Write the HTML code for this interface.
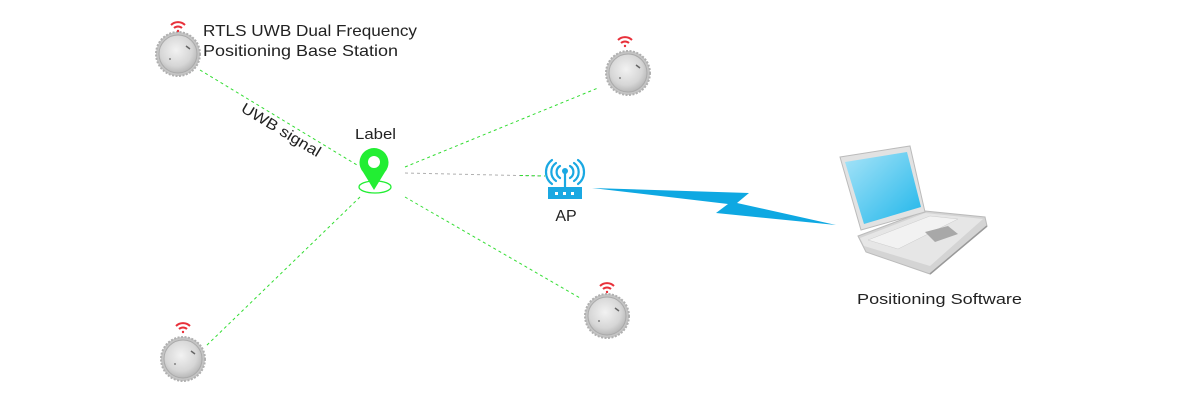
<!DOCTYPE html>
<html><head><meta charset="utf-8"><style>
html,body{margin:0;padding:0;background:#fff;}
svg{display:block;font-family:"Segoe UI","Liberation Sans","DejaVu Sans",sans-serif;}
</style></head><body>
<svg width="1200" height="400" viewBox="0 0 1200 400" xmlns="http://www.w3.org/2000/svg">
<defs>
<radialGradient id="bs" cx="45%" cy="40%" r="60%">
<stop offset="0" stop-color="#f2f2f2"/><stop offset="0.7" stop-color="#d6d6d6"/><stop offset="1" stop-color="#b8b8b8"/>
</radialGradient>
<linearGradient id="scr" x1="0" y1="0" x2="1" y2="1">
<stop offset="0" stop-color="#a8e4f8"/><stop offset="1" stop-color="#1fb6ea"/>
</linearGradient>
<g id="station">
<circle r="22" fill="#c4c4c4" stroke="#b0b0b0" stroke-width="2" stroke-dasharray="2 1.5"/>
<circle r="19" fill="url(#bs)" stroke="#aaa" stroke-width="1"/>
<path d="M8,-8 l4,3" stroke="#666" stroke-width="1.5"/>
<circle cx="-8" cy="5" r="0.9" fill="#666"/>
</g>
<g id="wifi" fill="none" stroke="#e8303a" stroke-width="2">
<path d="M-7,-2 A10,10 0 0 1 7,-2"/>
<path d="M-4,1 A6,6 0 0 1 4,1"/>
<circle cx="0" cy="4" r="1.2" fill="#e8303a" stroke="none"/>
</g>
</defs>
<g stroke="#33dd33" stroke-width="1" stroke-dasharray="3 3" fill="none">
<line x1="200" y1="70" x2="357" y2="165"/>
<line x1="405" y1="167" x2="598" y2="88"/>
<line x1="405" y1="197" x2="580" y2="298"/>
<line x1="360" y1="197" x2="205" y2="347"/>
</g>
<line x1="405" y1="173" x2="540" y2="176" stroke="#b0b0b0" stroke-width="1" stroke-dasharray="3 3"/>
<line x1="520" y1="175.5" x2="545" y2="176" stroke="#33dd33" stroke-width="1" stroke-dasharray="3 3"/>

<use href="#station" x="178" y="54"/><use href="#wifi" x="178" y="27"/>
<use href="#station" x="628" y="73"/><use href="#wifi" x="625" y="42"/>
<use href="#station" x="607" y="316"/><use href="#wifi" x="607" y="288"/>
<use href="#station" x="183" y="359"/><use href="#wifi" x="183" y="328"/>

<text x="203" y="36" font-size="16" fill="#222" textLength="214" lengthAdjust="spacingAndGlyphs">RTLS UWB Dual Frequency</text>
<text x="203" y="56" font-size="16" fill="#222" textLength="195" lengthAdjust="spacingAndGlyphs">Positioning Base Station</text>
<text x="0" y="0" font-size="15" fill="#222" transform="translate(240,111) rotate(31)" textLength="90" lengthAdjust="spacingAndGlyphs">UWB signal</text>
<text x="355" y="139" font-size="15" fill="#222" textLength="41" lengthAdjust="spacingAndGlyphs">Label</text>

<ellipse cx="375" cy="187" rx="16" ry="6" fill="none" stroke="#22ee33" stroke-width="1.3"/>
<path d="M374,190 L363,172 A14.5,14.5 0 1 1 385,172 Z" fill="#22ee33"/>
<circle cx="374" cy="162" r="6" fill="#fff"/>

<g stroke="#1aa8e2" stroke-width="2.2" fill="none" stroke-linecap="round">
<path d="M560,166 A7,7 0 0 0 560,178"/><path d="M570,166 A7,7 0 0 1 570,178"/>
<path d="M556,163 A11,11 0 0 0 556,181"/><path d="M574,163 A11,11 0 0 1 574,181"/>
<path d="M552,160 A15,15 0 0 0 552,184"/><path d="M578,160 A15,15 0 0 1 578,184"/>
<line x1="565" y1="172" x2="565" y2="188"/>
</g>
<circle cx="565" cy="171" r="3" fill="#1aa8e2"/>
<rect x="548" y="187" width="34" height="12" fill="#1aa8e2"/>
<rect x="555" y="192" width="3" height="3" fill="#fff"/><rect x="563" y="192" width="3" height="3" fill="#fff"/><rect x="571" y="192" width="3" height="3" fill="#fff"/>
<text x="566" y="221" font-size="16" fill="#222" text-anchor="middle">AP</text>

<polygon points="592,188 749,193 737,203 836,225 716,213 728,204" fill="#0ea8e2"/>

<polygon points="858,236 925,211 985,217 987,226 930,274 866,252" fill="#d4d4d4" stroke="#bbb"/>
<polygon points="860,238 925,213 983,219 930,266 864,246" fill="#e6e6e6"/>
<polygon points="868,240 930,216 958,219 898,249" fill="#f2f2f2" stroke="#ccc" stroke-width="0.5"/>
<polygon points="925,232 948,226 958,234 935,242" fill="#a8a8a8"/>
<polygon points="840,157 910,146 925,212 861,230" fill="#e2e2e2" stroke="#bbb"/>
<polygon points="845,162 907,152 921,207 864,224" fill="url(#scr)"/>
<line x1="930" y1="274" x2="987" y2="226" stroke="#999" stroke-width="1.5"/>
<text x="857" y="304" font-size="15" fill="#222" textLength="165" lengthAdjust="spacingAndGlyphs">Positioning Software</text>
</svg>
</body></html>
